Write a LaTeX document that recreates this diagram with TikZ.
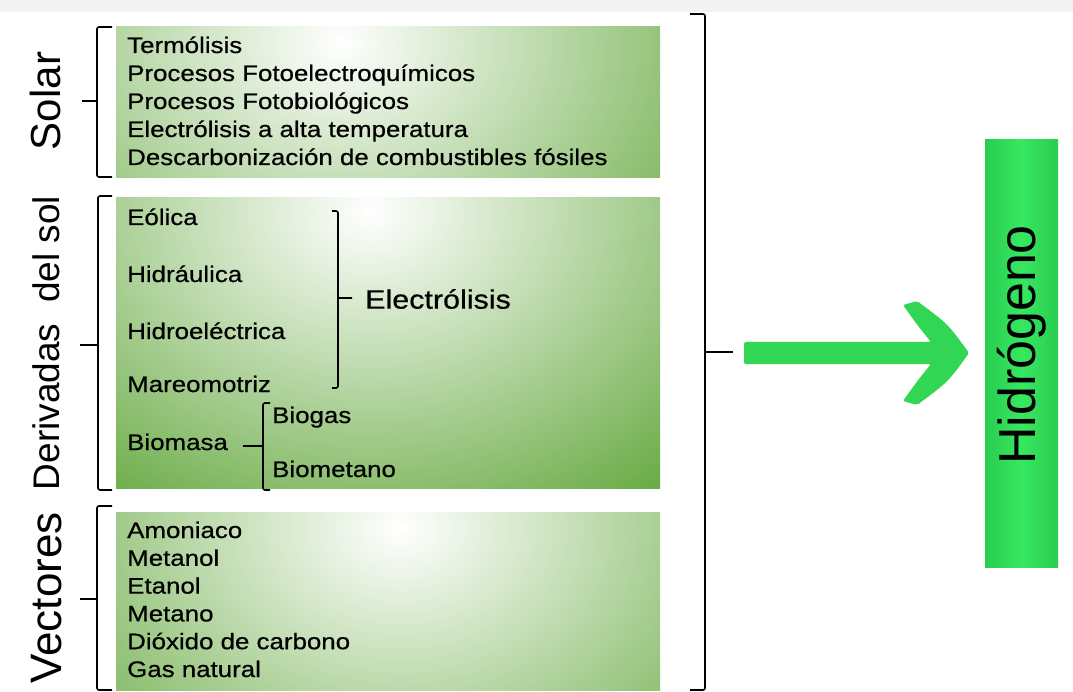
\documentclass[tikz,border=0pt]{standalone}
\usepackage{fontspec}
\setmainfont{Liberation Sans}
\newfontfamily\itemfont{Liberation Sans}[FakeStretch=1.15,FakeBold=0.6]
\definecolor{boxgreen}{RGB}{100,168,62}
\definecolor{arrowgreen}{RGB}{48,214,84}
\definecolor{barmid}{RGB}{54,232,96}
\definecolor{barside}{RGB}{42,204,80}
\definecolor{bandgray}{RGB}{242,244,242}
\tikzset{
  item/.style={anchor=base west, inner sep=0pt, font=\itemfont\fontsize{22.5}{26}\selectfont},
  side/.style={rotate=90, inner sep=0pt},
  bracket/.style={line width=1.6pt, rounded corners=2pt}
}
\begin{document}
\begin{tikzpicture}[x=1pt,y=-1pt]
\useasboundingbox (0,0) rectangle (1073,692);

% background
\fill[white] (0,0) rectangle (1073,692);
\fill[bandgray] (0,0) rectangle (1073,12);

% green boxes
\foreach \ya/\yb/\cx/\cy in {27/178/340/42, 198/488/370/212, 512/690/400/528} {
  \fill[boxgreen] (116,\ya) rectangle (660,\yb);
  \begin{scope}
    \clip (116,\ya) rectangle (660,\yb);
    \shade[inner color=white, outer color=boxgreen] (\cx,\cy) ellipse (470 and 370);
  \end{scope}
}

% Solar
\foreach \txt [count=\i] in {Termólisis, Procesos Fotoelectroquímicos, Procesos Fotobiológicos,
    Electrólisis a alta temperatura, Descarbonización de combustibles fósiles}
  \node[item] (sol\i) at (127,{53+28*(\i-1)}) {\txt};
\node[side, font=\fontsize{42}{48}\selectfont] (solar) at (45,101) {Solar};
\draw[bracket] (112,27) -- (97,27) -- (97,177) -- (112,177) (97,101) -- (82,101);

% Derivadas del sol
\node[item] (eol) at (127,225) {Eólica};
\node[item] (hid) at (127,282) {Hidráulica};
\node[item] (hel) at (127,339) {Hidroeléctrica};
\node[item] (mar) at (127,392) {Mareomotriz};
\node[item] (bio) at (127,450) {Biomasa};
\node[item] (bgas) at (272,423) {Biogas};
\node[item] (bmet) at (272,477) {Biometano};
\node[anchor=west, inner sep=0pt, font=\itemfont\fontsize{26.5}{30}\selectfont] (elec) at (365,299) {Electrólisis};
\draw[bracket] (332,211) -- (338,211) -- (338,388) -- (332,388) (338,298) -- (352,298);
\draw[bracket] (270,403) -- (263,403) -- (263,490) -- (270,490) (263,446) -- (243,446);
\node[side, font=\fontsize{37}{42}\selectfont] (deriv) at (46,343) {Derivadas~ del sol};
\draw[bracket] (112,196) -- (98,196) -- (98,490) -- (112,490) (98,345) -- (80,345);

% Vectores
\foreach \txt [count=\i] in {Amoniaco, Metanol, Etanol, Metano, Dióxido de carbono, Gas natural}
  \node[item] (vec\i) at (127,{538+27.8*(\i-1)}) {\txt};
\node[side, font=\fontsize{44}{50}\selectfont] (vect) at (47,598) {Vectores};
\draw[bracket] (112,506) -- (97,506) -- (97,690) -- (112,690) (97,599) -- (80,599);

% big bracket
\draw[bracket] (690,14) -- (705,14) -- (705,690) -- (690,690);
\coordinate (from) at (733,352);
\draw[bracket] (705,352) -- (from);

% Hidrogeno
\shade[left color=barside, right color=barside, middle color=barmid] (985,140) rectangle (1058,567);
\node[rotate=90, font=\fontsize{52}{60}\selectfont] (h2) at (1022,345) {Hidrógeno};

% arrow
\fill[arrowgreen, rounded corners=2pt] (744,342) -- (931,342) .. controls (918,326) .. (903,305)
  -- (917,301) .. controls (948,324) .. (969,353) .. controls (948,382) .. (917,405)
  -- (903,401) .. controls (918,380) .. (931,364) -- (744,364) -- cycle;
\end{tikzpicture}
\end{document}
